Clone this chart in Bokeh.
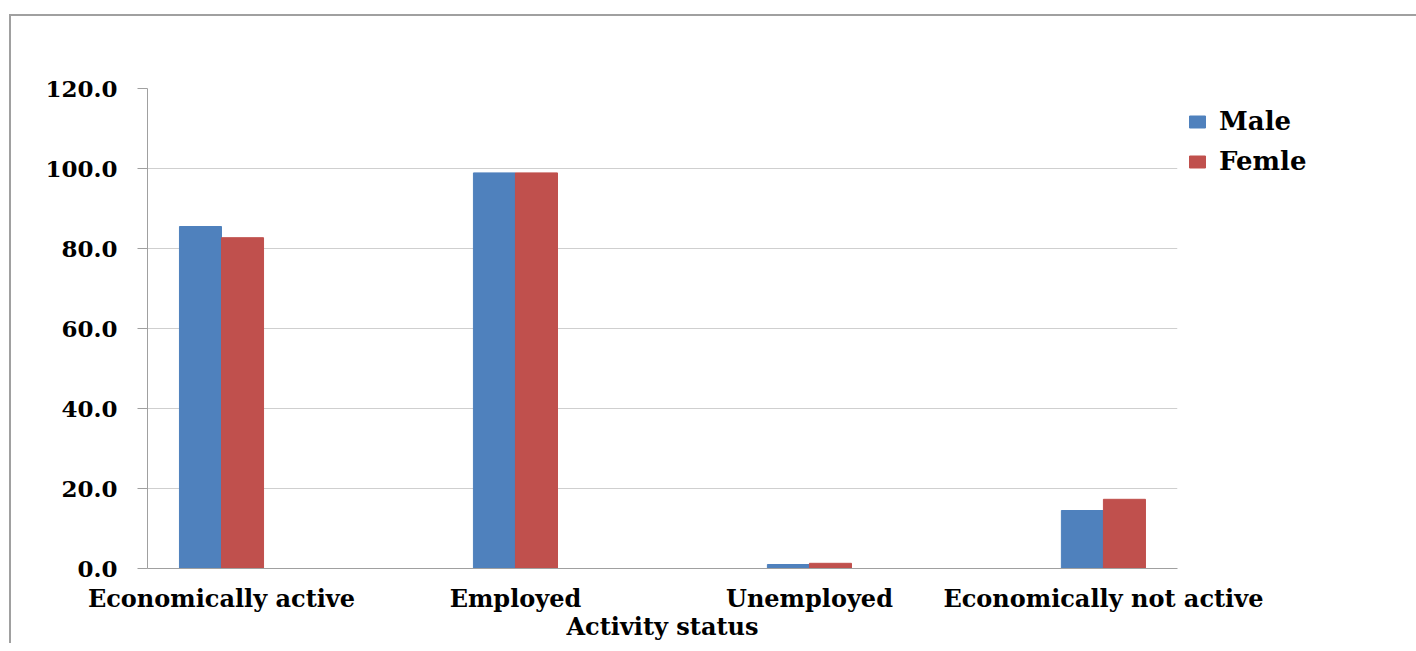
from bokeh.plotting import figure
from bokeh.models import Range1d, FixedTicker, PrintfTickFormatter, Legend, LegendItem
from bokeh.transform import dodge
from bokeh.models import ColumnDataSource
from bokeh.embed import file_html
from bokeh.resources import INLINE

categories = ["Economically active", "Employed", "Unemployed", "Economically not active"]
male = [85.5, 98.9, 1.0, 14.5]
female = [82.7, 98.9, 1.3, 17.3]
y_ticks = [0, 20, 40, 60, 80, 100, 120]

FONT = "DejaVu Serif"
MALE_C = "#4F81BD"
FEMALE_C = "#C0504D"

pos = list(range(len(categories)))
src = ColumnDataSource(dict(x=pos, male=male, female=female))

p = figure(
    output_backend="svg", toolbar_location=None,
    frame_width=1030, frame_height=480,
    min_border_left=136, min_border_top=72, min_border_bottom=75, min_border_right=226,
    x_range=Range1d(-0.2517, 3.252), y_range=Range1d(0, 120),
)
p.styles = {"margin-top": "14px", "margin-left": "9px",
            "border-top": "2px solid #a0a0a0", "border-left": "2px solid #a0a0a0"}
p.outline_line_color = None
p.background_fill_color = "white"
p.border_fill_color = "white"

bw = 0.143
r1 = p.vbar(x=dodge("x", -bw / 2, range=p.x_range), top="male", width=bw, source=src,
            fill_color=MALE_C, line_color=MALE_C)
r2 = p.vbar(x=dodge("x", bw / 2, range=p.x_range), top="female", width=bw, source=src,
            fill_color=FEMALE_C, line_color=FEMALE_C)

# y axis
ya = p.yaxis[0]
ya.ticker = FixedTicker(ticks=y_ticks)
ya.formatter = PrintfTickFormatter(format="%.1f")
ya.axis_line_color = "#a0a0a0"
ya.major_tick_line_color = "#a0a0a0"
ya.major_tick_out = 10
ya.major_tick_in = 0
ya.minor_tick_line_color = None
ya.major_label_text_font = FONT
ya.major_label_text_font_style = "bold"
ya.major_label_text_font_size = "23px"
ya.major_label_text_color = "black"
ya.major_label_standoff = 20

# x axis
xa = p.xaxis[0]
xa.ticker = FixedTicker(ticks=pos)
xa.major_label_overrides = {i: c for i, c in zip(pos, categories)}
xa.axis_line_color = "#a0a0a0"
xa.major_tick_line_color = None
xa.minor_tick_line_color = None
xa.major_label_text_font = FONT
xa.major_label_text_font_style = "bold"
xa.major_label_text_font_size = "24px"
xa.major_label_text_color = "black"
xa.major_label_standoff = 9
xa.axis_label = "Activity status"
xa.axis_label_text_font = FONT
xa.axis_label_text_font_style = "bold"
xa.axis_label_text_font_size = "24px"
xa.axis_label_text_color = "black"
xa.axis_label_standoff = -4

p.xgrid.grid_line_color = None
p.ygrid.grid_line_color = "#cfcfcf"
p.ygrid.ticker = FixedTicker(ticks=y_ticks)

legend = Legend(items=[LegendItem(label="Male", renderers=[r1]),
                       LegendItem(label="Femle", renderers=[r2])],
                location=(10, 387))
legend.label_text_font = FONT
legend.label_text_font_style = "bold"
legend.label_text_font_size = "26px"
legend.label_text_color = "black"
legend.glyph_width = 20
legend.glyph_height = 15
legend.label_standoff = 12
legend.label_height = 40
legend.spacing = 0
legend.padding = 0
legend.margin = 0
legend.border_line_color = None
legend.background_fill_alpha = 0
p.add_layout(legend, "right")

open("out.html", "w").write(file_html(p, INLINE))
